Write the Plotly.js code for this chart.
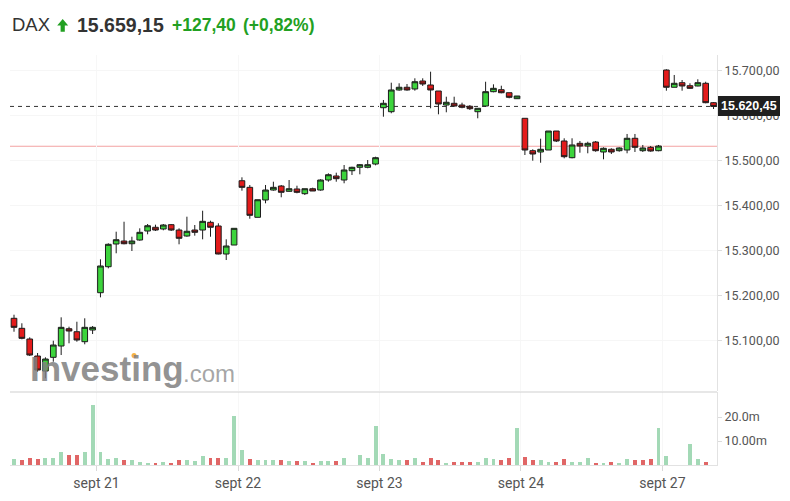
<!DOCTYPE html>
<html><head><meta charset="utf-8">
<script src="https://cdn.plot.ly/plotly-3.0.1.min.js"></script>
<style>html,body{margin:0;padding:0;background:#fff;}#chart{width:790px;height:501px;}</style>
</head><body><div id="chart"></div>
<script>
// ---- DATA (30-min candles, 20–27 Sept) ----
const openP = [
15148.6,15126.3,15102.5,15064.6,15031.2,15061.7,15086.9,15125.4,15118.7,15096.5,15122.5,
15205.6,15263.5,15314.1,15320.7,15314.7,15323.0,15343.0,15351.3,15347.5,15357.1,15345.2,15331.9,15345.2,15345.2,15362.4,15354.2,15291.8,15311.8,
15455.0,15440.3,15373.5,15412.1,15434.3,15443.2,15431.4,15436.6,15426.1,15437.2,15434.3,15456.6,15465.5,15456.6,15477.3,15484.9,15484.9,15492.2,
15617.6,15608.7,15657.1,15663.1,15659.3,15677.1,15668.2,15654.8,15623.6,15627.4,15623.6,15620.8,15608.7,15621.4,15653.3,15657.7,15651.0,15637.7,
15594.0,15521.9,15519.0,15523.4,15565.7,15543.5,15506.3,15538.3,15532.3,15541.2,15519.0,15525.0,15521.9,15523.4,15549.5,15521.9,15529.4,15521.9,
15701.6,15663.1,15673.3,15666.6,15666.0,15672.0,15628.8];
const highP = [
15156.6,15137.5,15106.3,15071.3,15061.7,15098.7,15150.8,15129.9,15141.0,15148.6,15131.4,
15280.0,15315.6,15341.5,15363.7,15330.3,15349.0,15358.6,15357.1,15358.6,15358.6,15349.0,15374.9,15356.4,15388.2,15366.0,15360.2,15324.5,15349.0,
15462.6,15445.5,15412.7,15445.5,15452.8,15445.5,15456.6,15443.9,15437.2,15439.5,15458.2,15471.5,15472.9,15490.0,15486.2,15492.2,15501.1,15508.5,
15634.8,15673.3,15672.0,15670.4,15683.1,15683.1,15697.8,15654.8,15642.1,15642.1,15628.8,15623.6,15616.3,15675.5,15669.7,15666.6,15651.0,15643.7,
15594.0,15525.0,15548.6,15565.7,15565.7,15549.5,15549.5,15543.5,15541.9,15543.5,15529.4,15527.2,15529.4,15559.1,15559.1,15534.6,15532.3,15534.6,
15703.2,15690.5,15679.3,15672.0,15680.9,15675.5,15630.3];
const lowP = [
15118.7,15101.8,15064.6,15029.7,15015.0,15051.9,15066.8,15092.9,15096.5,15090.7,15113.6,
15195.3,15259.9,15293.4,15313.4,15298.5,15321.4,15335.7,15343.0,15344.6,15343.0,15313.4,15330.3,15332.6,15324.5,15330.3,15291.1,15278.4,15311.8,
15432.8,15370.4,15373.5,15404.7,15432.8,15418.1,15430.6,15427.0,15423.2,15432.1,15432.8,15452.8,15452.8,15449.3,15467.7,15469.3,15482.7,15489.3,
15597.6,15605.2,15655.5,15655.5,15655.5,15666.0,15616.3,15602.9,15607.4,15619.9,15616.3,15612.5,15594.0,15619.9,15651.9,15649.7,15638.6,15637.0,
15512.3,15499.6,15495.1,15523.4,15541.2,15504.9,15504.9,15517.4,15516.1,15519.6,15502.7,15514.5,15519.6,15516.1,15519.0,15519.0,15519.6,15520.5,
15655.5,15663.1,15655.5,15660.0,15665.3,15627.4,15614.7];
const closeP = [
15128.5,15104.0,15066.8,15033.4,15057.9,15089.1,15128.5,15120.3,15100.3,15128.5,15128.5,
15265.1,15313.4,15323.6,15314.7,15320.7,15340.1,15354.8,15345.2,15356.4,15345.2,15326.8,15342.4,15340.1,15364.6,15351.3,15291.8,15309.6,15349.0,
15440.3,15378.0,15412.7,15434.3,15440.3,15429.2,15437.2,15429.2,15437.2,15432.1,15456.6,15468.4,15459.5,15478.9,15484.9,15490.7,15490.7,15506.3,
15627.4,15657.1,15663.1,15657.1,15675.5,15670.4,15657.1,15625.9,15629.7,15621.4,15618.5,15615.4,15616.3,15653.3,15660.8,15651.0,15640.8,15643.7,
15523.4,15514.5,15525.0,15565.7,15543.5,15508.5,15534.6,15532.3,15538.3,15521.9,15527.2,15519.0,15527.9,15549.5,15529.4,15527.9,15521.2,15532.3,
15663.1,15672.0,15666.0,15660.8,15673.3,15628.8,15620.45];
// volume in millions
const volumeM = [
2.7,2.2,2.8,2.4,2.8,2.8,5.4,4.0,4.0,5.4,24.9,
5.4,2.4,2.8,2.0,2.0,1.25,0.8,0.8,1.25,0.8,2.0,2.0,1.5,3.6,2.9,2.9,2.9,20.3,
6.1,2.4,2.0,2.0,2.0,2.0,1.5,1.5,1.5,1.0,1.5,1.5,1.5,2.8,0,4.0,2.9,16.1,
4.5,2.4,2.0,2.0,2.8,1.4,2.8,2.0,0.8,1.1,1.4,1.4,1.4,2.8,2.4,2.0,2.8,15.3,
3.5,2.0,2.0,1.4,1.4,2.4,1.4,1.4,2.8,0.8,0.8,1.4,0.8,2.4,2.0,2.0,2.4,15.3,
3.9,0,0,8.6,2.4,1.4,0];
const volumeDir = [
'u','d','d','d','u','u','u','d','d','u','u',
'u','u','u','d','u','u','u','d','u','d','d','u','u','u','d','d','u','u',
'u','d','u','u','u','d','u','d','u','d','u','u','d','u','u','u','u','u',
'u','u','u','d','u','d','d','d','u','d','d','d','u','u','u','d','d','u',
'd','d','u','u','d','d','u','u','u','d','u','d','u','u','d','d','d','u',
'u','u','u','u','u','d','u'];
const dayTickPos = [10.5, 28.5, 46.5, 64.5, 82.5];
const dayTickText = ['sept 21','sept 22','sept 23','sept 24','sept 27'];
const priceTicks = [15100,15200,15300,15400,15500,15600,15700];
const volTicks = [10, 20];
const volTickText = ['10.00m','20.0m'];
const instrument = 'DAX';
const lastPrice = '15.659,15';
const changeAbs = '+127,40';
const changePct = '(+0,82%)';
const prevClose = 15531.75;
const lastClose = closeP[closeP.length-1];

// ---- LAYOUT HELPERS (pixel -> paper) ----
const L=10, R=717, T=55, B=465;
const px = x => (x-L)/(R-L);
const py = y => (B-y)/(B-T);
const xIdx = openP.map((_, i) => i);
const fmt = v => v.toFixed(2).replace('.', '#').replace(/\B(?=(\d{3})+(?!\d))/g, '.').replace('#', ',');

const GREEN = '#22a022';
const FONT = 'Liberation Sans, Arial, sans-serif';
const AXFONT = 'Roboto, Arial, sans-serif';

const traces = [
  {
    type: 'candlestick', x: xIdx, open: openP, high: highP, low: lowP, close: closeP,
    xaxis: 'x', yaxis: 'y', whiskerwidth: 0, hoverinfo: 'skip',
    increasing: {line: {color: '#1c1c1c', width: 1}, fillcolor: '#3cd43c'},
    decreasing: {line: {color: '#1c1c1c', width: 1}, fillcolor: '#e31b1b'},
    showlegend: false
  },
  {
    type: 'bar', x: xIdx, y: volumeM, xaxis: 'x', yaxis: 'y2', width: 0.5,
    marker: {color: volumeDir.map(d => d === 'u' ? '#a3d9b6' : '#e06666'), line: {width: 0}},
    hoverinfo: 'skip', showlegend: false
  }
];

const arrowPts = [[62.7,19],[57.2,25.6],[60.6,25.6],[60.6,31.7],[64.8,31.7],[64.8,25.6],[68.2,25.6]];
const arrowPath = 'M' + arrowPts.map(p => px(p[0]) + ',' + py(p[1])).join(' L') + ' Z';

const layout = {
  width: 790, height: 501,
  margin: {l: L, r: 790-R, t: T, b: 501-B, pad: 0},
  paper_bgcolor: '#fff', plot_bgcolor: '#fff',
  separators: ',.',
  boxgap: 0.2, boxgroupgap: 0.1,
  bargap: 0,
  showlegend: false,
  xaxis: {
    domain: [0, 1], range: [-0.509, 89.44], anchor: 'y2',
    tickmode: 'array', tickvals: dayTickPos, ticktext: dayTickText,
    ticks: 'outside', ticklen: 5, tickcolor: '#d8d8d8',
    tickfont: {family: AXFONT, size: 14, color: '#555'},
    showgrid: true, gridcolor: '#f7f7f7', gridwidth: 1,
    showline: true, linecolor: '#e2e2e2', zeroline: false,
    rangeslider: {visible: false}, fixedrange: true
  },
  yaxis: {
    domain: [py(391), 1], range: [14986.7, 15735.0], anchor: 'x', side: 'right',
    tickmode: 'array', tickvals: priceTicks, tickformat: ',.2f',
    ticks: 'outside', ticklen: 4, tickcolor: '#dcdcdc',
    tickfont: {family: AXFONT, size: 12.5, color: '#555'},
    showgrid: true, gridcolor: '#f6f6f6', showline: true, linecolor: '#e2e2e2',
    zeroline: false, fixedrange: true
  },
  yaxis2: {
    domain: [0, py(392)], range: [0, 30.42], anchor: 'x', side: 'right',
    tickmode: 'array', tickvals: volTicks, ticktext: volTickText,
    ticks: 'outside', ticklen: 4, tickcolor: '#dcdcdc',
    tickfont: {family: AXFONT, size: 12.5, color: '#555'},
    showgrid: false, showline: true, linecolor: '#e2e2e2',
    zeroline: false, fixedrange: true
  },
  shapes: [
    {type: 'line', layer: 'below', xref: 'paper', yref: 'y', x0: 0, x1: 1, y0: prevClose, y1: prevClose,
     line: {color: '#f3a3a3', width: 1}},
    {type: 'line', layer: 'below', xref: 'paper', yref: 'y', x0: 0, x1: 1, y0: lastClose, y1: lastClose,
     line: {color: '#333', width: 1, dash: '4px,4px'}},
    {type: 'line', xref: 'paper', yref: 'paper', x0: 0, x1: 1, y0: py(392), y1: py(392),
     line: {color: '#cfcfcf', width: 1}},
    {type: 'path', xref: 'paper', yref: 'paper', path: arrowPath, fillcolor: GREEN, line: {width: 0}},
    {type: 'circle', xref: 'paper', yref: 'paper', x0: px(131.5), x1: px(136.5), y0: py(353), y1: py(358),
     fillcolor: 'rgba(245,166,35,0.85)', line: {width: 0}}
  ],
  annotations: [
    {xref: 'paper', yref: 'paper', x: px(11), y: py(25), xanchor: 'left', yanchor: 'middle', showarrow: false,
     text: instrument, font: {family: FONT, size: 18.5, color: '#333'}, borderpad: 0},
    {xref: 'paper', yref: 'paper', x: px(75.5), y: py(25), xanchor: 'left', yanchor: 'middle', showarrow: false,
     text: '<b>' + lastPrice + '</b>', font: {family: FONT, size: 19.5, color: '#333'}, borderpad: 0},
    {xref: 'paper', yref: 'paper', x: px(170.5), y: py(25), xanchor: 'left', yanchor: 'middle', showarrow: false,
     text: '<b>' + changeAbs + '</b>', font: {family: FONT, size: 17.5, color: GREEN}, borderpad: 0},
    {xref: 'paper', yref: 'paper', x: px(241.5), y: py(25), xanchor: 'left', yanchor: 'middle', showarrow: false,
     text: '<b>' + changePct + '</b>', font: {family: FONT, size: 17.5, color: GREEN}, borderpad: 0},
    {xref: 'paper', yref: 'paper', x: px(28.5), y: py(368), xanchor: 'left', yanchor: 'middle', showarrow: false,
     text: '<b>Investing</b>', font: {family: FONT, size: 35, color: 'rgba(128,128,128,0.85)'}, borderpad: 0},
    {xref: 'paper', yref: 'paper', x: px(181.5), y: py(373), xanchor: 'left', yanchor: 'middle', showarrow: false,
     text: '.com', font: {family: FONT, size: 24, color: 'rgba(150,150,150,0.85)'}, borderpad: 0},
    {xref: 'paper', yref: 'y', x: 1, y: lastClose, xanchor: 'left', yanchor: 'middle', xshift: 1, showarrow: false,
     text: '<b>' + fmt(lastClose) + '</b>', font: {family: FONT, size: 12.5, color: '#fff'},
     bgcolor: '#1f1f1f', borderpad: 2, borderwidth: 1, bordercolor: '#1f1f1f'}
  ]
};

Plotly.newPlot('chart', traces, layout, {displayModeBar: false, staticPlot: true});
</script>
</body></html>
